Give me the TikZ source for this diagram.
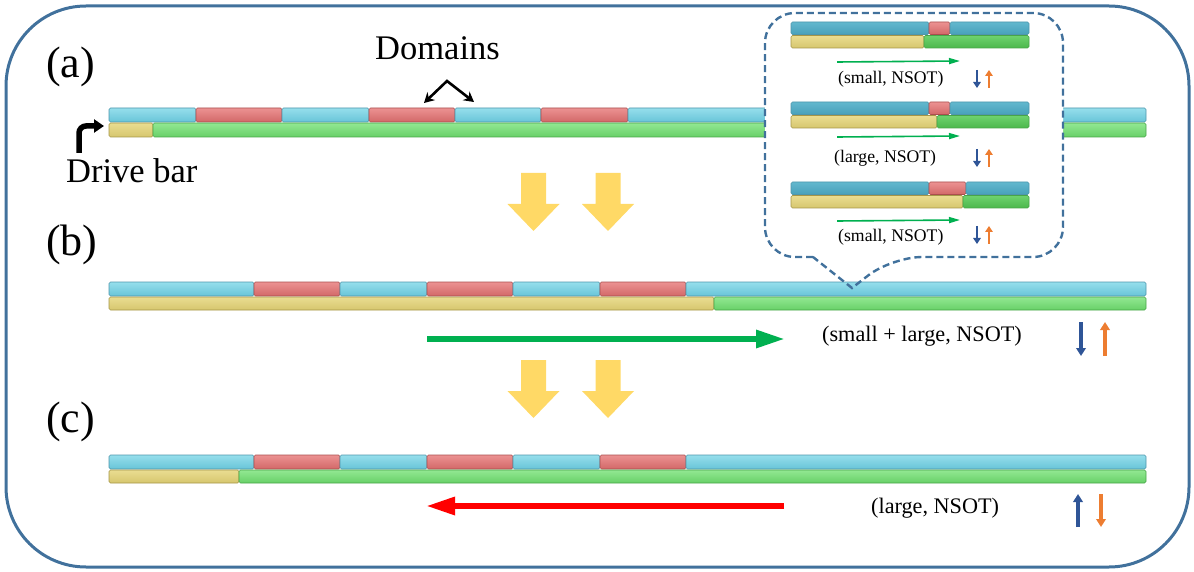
\documentclass[tikz,border=0pt]{standalone}
\usepackage{fontspec}
\setmainfont{Liberation Serif}
\newfontfamily\timesfam{Liberation Serif}
\usetikzlibrary{arrows.meta}

\definecolor{framebl}{RGB}{65,113,156}
\definecolor{cyanhi}{RGB}{150,223,236}
\definecolor{cyanlo}{RGB}{104,196,216}
\definecolor{cyanedge}{RGB}{78,150,172}
\definecolor{redhi}{RGB}{236,146,146}
\definecolor{redlo}{RGB}{210,104,104}
\definecolor{rededge}{RGB}{170,78,78}
\definecolor{yelhi}{RGB}{234,221,145}
\definecolor{yello}{RGB}{214,198,110}
\definecolor{yeledge}{RGB}{165,150,72}
\definecolor{grnhi}{RGB}{146,232,146}
\definecolor{grnlo}{RGB}{104,208,104}
\definecolor{grnedge}{RGB}{72,165,72}
\definecolor{cyanmhi}{RGB}{98,184,206}
\definecolor{cyanmlo}{RGB}{72,160,186}
\definecolor{grnmhi}{RGB}{110,210,110}
\definecolor{grnmlo}{RGB}{76,184,76}
\definecolor{blockyel}{RGB}{255,217,102}
\definecolor{drivegreen}{RGB}{0,176,80}
\definecolor{spinblue}{RGB}{47,85,151}
\definecolor{spinorange}{RGB}{237,125,49}

\begin{document}
\begin{tikzpicture}[x=1pt,y=-1pt,
		seg/.style={rounded corners=1.5pt, line width=0.6pt},
		cyanbar/.style={seg, draw=cyanedge, top color=cyanhi, bottom color=cyanlo},
		redbar/.style={seg, draw=rededge, top color=redhi, bottom color=redlo},
		yellowbar/.style={seg, draw=yeledge, top color=yelhi, bottom color=yello},
		greenbar/.style={seg, draw=grnedge, top color=grnhi, bottom color=grnlo},
		cyanmini/.style={seg, draw=cyanedge, top color=cyanmhi, bottom color=cyanmlo},
		greenmini/.style={seg, draw=grnedge, top color=grnmhi, bottom color=grnmlo},
		panel/.style={inner sep=0pt, anchor=base west, font=\timesfam\fontsize{44}{48}\selectfont},
		caption/.style={inner sep=0pt, anchor=base west, font=\timesfam\fontsize{34.5}{38}\selectfont},
		state/.style={inner sep=0pt, anchor=base west, font=\timesfam\fontsize{22.2}{25}\selectfont},
		ministate/.style={inner sep=0pt, anchor=base west, font=\timesfam\fontsize{17.7}{20}\selectfont},
		blockarrow/.style={fill=blockyel},
		bigarrow/.style={line width=6pt, -{Triangle[length=29pt,width=17pt]}},
		smallarrow/.style={line width=1.6pt, drivegreen, -{Triangle[length=11pt,width=6pt]}},
		spin/.style={line width=3.8pt, -{Triangle[length=8pt,width=9.5pt]}},
		minispin/.style={line width=2.8pt, -{Triangle[length=6pt,width=7.5pt]}},
		callout/.style={draw=framebl, line width=2.4pt, dash pattern=on 7pt off 4pt},
	]
	\useasboundingbox (0,0) rectangle (1194,572);
	\draw[framebl, line width=3pt, rounded corners=80pt] (6,6) rectangle (1189,567);

	% panel labels
	\node[panel] (pa) at (46,78) {(a)};
	\node[panel] (pb) at (46,255) {(b)};
	\node[panel] (pc) at (46,432) {(c)};

	% (a) racetrack
	\foreach \xa/\xb/\s in {109/196/cyanbar, 196/282/redbar, 282/369/cyanbar, 369/455/redbar,
			455/541/cyanbar, 541/628/redbar, 628/1146/cyanbar}
		{\draw[\s] (\xa,108) rectangle (\xb,122);}
	\draw[yellowbar] (109,123) rectangle (153,137);
	\draw[greenbar] (153,123) rectangle (1146,137);

	\node[caption] (dom) at (375,60) {Domains};
	\coordinate (dtop) at (447,81);
	\coordinate (dl) at (424,103);
	\coordinate (dr) at (474,102);
	\draw[line width=2.6pt, {Stealth[length=10pt,width=11pt]}-{Stealth[length=10pt,width=11pt]}] (dl) -- (dtop) -- (dr);

	\node[caption] (drive) at (66,183) {Drive bar};
	\coordinate (dv) at (79,153);
	\coordinate (dh) at (104,126);
	\draw[line width=5.5pt, rounded corners=7pt, -{Triangle[length=10pt,width=13pt]}] (dv) -- (79,126) -- (dh);

	% (b) and (c) racetracks
	\foreach \yt/\ye in {282/714, 455/239}
	{
		\foreach \xa/\xb/\s in {109/254/cyanbar, 254/340/redbar, 340/427/cyanbar, 427/513/redbar,
				513/600/cyanbar, 600/686/redbar, 686/1146/cyanbar}
			{\draw[\s] (\xa,\yt) rectangle (\xb,\yt+14);}
		\draw[yellowbar] (109,\yt+15) rectangle (\ye,\yt+28);
		\draw[greenbar] (\ye,\yt+15) rectangle (1146,\yt+28);
	}

	% block arrows
	\foreach \ty in {173,360}
		\foreach \cx in {533.5,608}
			{\fill[blockarrow] (\cx-12.5,\ty) -- (\cx+12.5,\ty) -- (\cx+12.5,\ty+31) -- (\cx+26,\ty+31)
				-- (\cx,\ty+58) -- (\cx-26,\ty+31) -- (\cx-12.5,\ty+31) -- cycle;}

	% (b) motion
	\coordinate (gA) at (427,339);
	\coordinate (gB) at (785,339);
	\draw[bigarrow, drivegreen] (gA) -- (gB);
	\node[state] (sb) at (822,341) {(small + large, NSOT)};
	\coordinate (b1) at (1081,322);
	\coordinate (b2) at (1081,356);
	\coordinate (o1) at (1105,356);
	\coordinate (o2) at (1105,322);
	\draw[spin, spinblue] (b1) -- (b2);
	\draw[spin, spinorange] (o1) -- (o2);

	% (c) motion
	\coordinate (rA) at (784,506);
	\coordinate (rB) at (426,506);
	\draw[bigarrow, red] (rA) -- (rB);
	\node[state] (sc) at (871,513) {(large, NSOT)};
	\coordinate (c1) at (1078,527);
	\coordinate (c2) at (1078,494);
	\coordinate (c3) at (1101,494);
	\coordinate (c4) at (1101,527);
	\draw[spin, spinblue] (c1) -- (c2);
	\draw[spin, spinorange] (c3) -- (c4);

	% zoomed-in callout
	\fill[white, rounded corners=30pt] (765,13) rectangle (1063,257);
	\draw[callout] (813,257) [rounded corners=30pt] -- (765,257) -- (765,13) -- (1063,13) -- (1063,257)
		-- (892,257) [sharp corners] -- (852,288) -- cycle;

	\foreach \i/\yt/\rs/\re/\ye/\ay/\sy/\lx/\ly/\txt in {
			1/22/929/950/924/62/70/838/84/{(small, NSOT)},
			2/102/929/950/937/137/149/834/163/{(large, NSOT)},
			3/182/929/966/963/221/226/838/241/{(small, NSOT)}}
	{
		\draw[cyanmini] (791,\yt) rectangle (\rs,\yt+12.5);
		\draw[redbar] (\rs,\yt) rectangle (\re,\yt+12.5);
		\draw[cyanmini] (\re,\yt) rectangle (1029,\yt+12.5);
		\draw[yellowbar] (791,\yt+13.5) rectangle (\ye,\yt+26);
		\draw[greenmini] (\ye,\yt+13.5) rectangle (1029,\yt+26);
		\coordinate (m\i a) at (837,\ay);
		\coordinate (m\i b) at (960,\ay-1);
		\draw[smallarrow] (m\i a) -- (m\i b);
		\node[ministate] (ms\i) at (\lx,\ly) {\txt};
		\draw[minispin, spinblue] (977,\sy) -- (977,\sy+18);
		\draw[minispin, spinorange] (989,\sy+18) -- (989,\sy);
	}
\end{tikzpicture}
\end{document}
